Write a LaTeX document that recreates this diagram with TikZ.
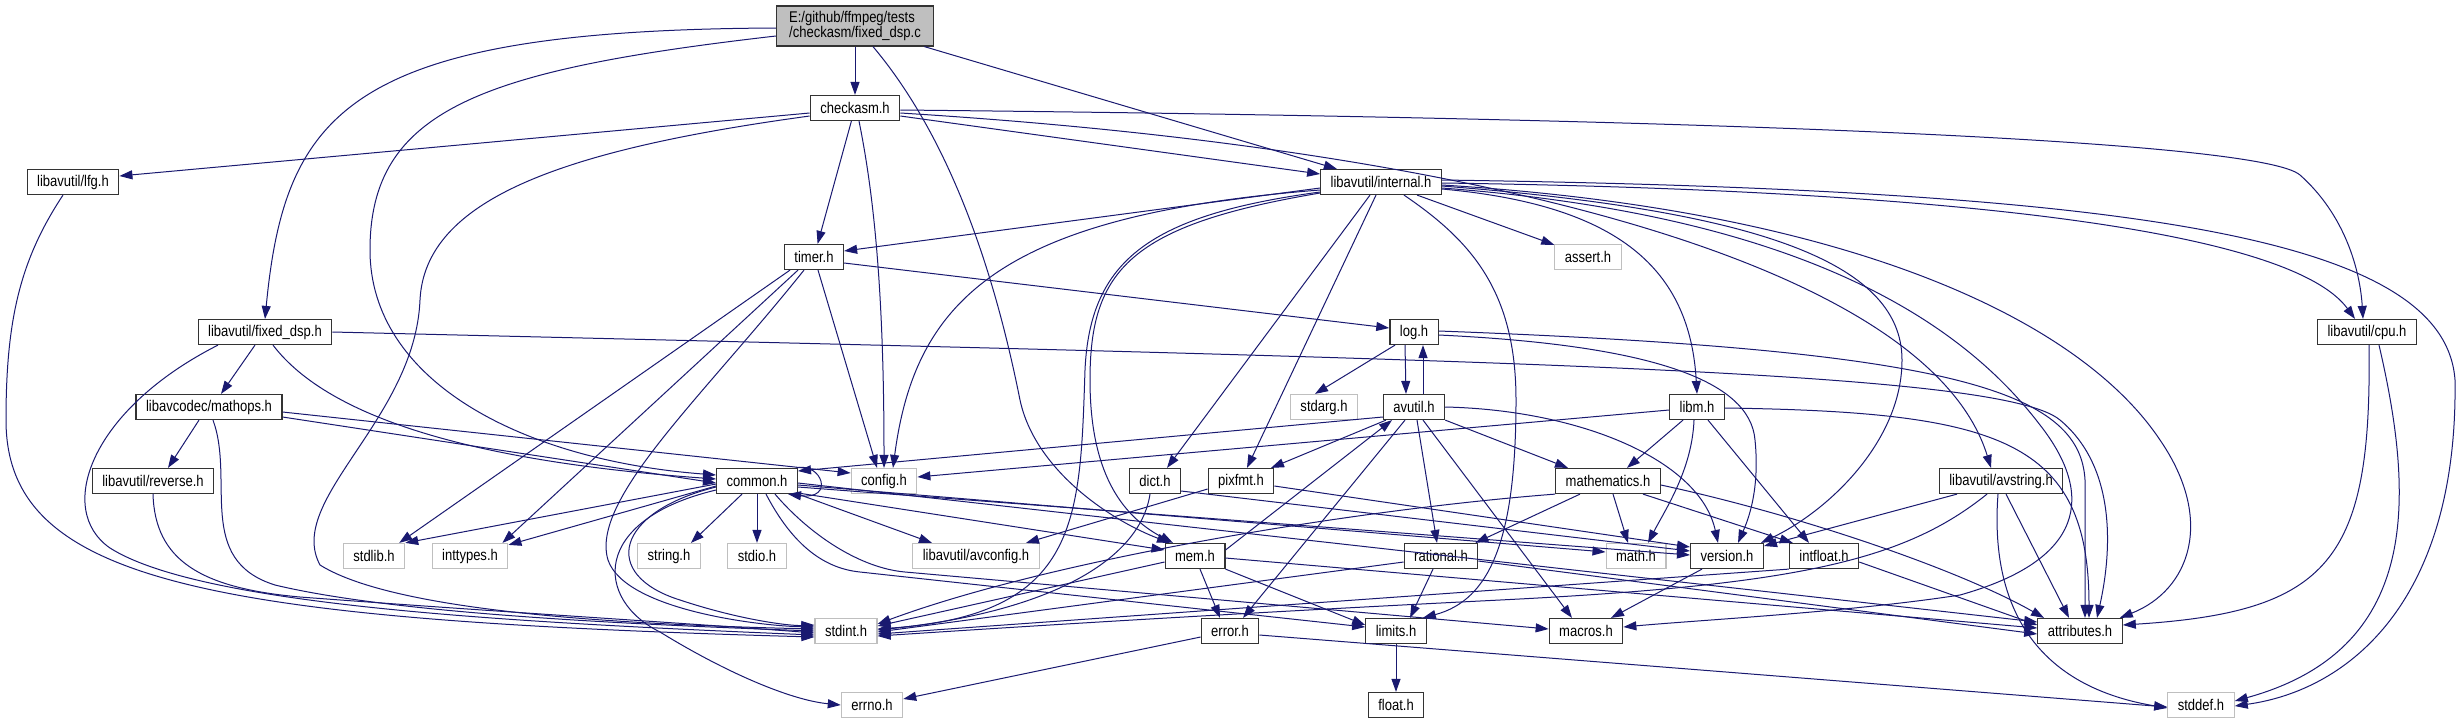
\documentclass[tikz,border=0pt]{standalone}
\usepackage{fontspec}
\setmainfont{Liberation Sans}
\newfontfamily\doxy[FakeStretch=0.84]{Liberation Sans}
\usetikzlibrary{arrows.meta}
\definecolor{enlace}{RGB}{25,25,112}
\definecolor{gris}{RGB}{191,191,191}

\begin{document}
\begin{tikzpicture}[x=1pt,y=-1pt]
        % Estilos de las cajas y de las flechas
        \tikzset{
            cabecera/.style={draw=black!80, line width=1.2pt, fill=white, minimum height=25pt,
                inner xsep=10pt, inner ysep=0pt, font=\doxy\fontsize{15.5}{15}\selectfont},
            sistema/.style={cabecera, draw=gris},
            raiz/.style={cabecera, fill=gris, align=left, minimum height=40pt, minimum width=157pt},
            incluye/.style={draw=enlace, line width=1pt, -{Triangle[length=13pt,width=9pt]}}
        }
        \fill[white] (0,0) rectangle (2460,724);
        \useasboundingbox (0,0) rectangle (2460,724);

        % --- FILAS 0 A 3 ---
        \node[raiz] (fixeddspc) at (855,26) {E:/github/ffmpeg/tests\\/checkasm/fixed\_dsp.c};
        \node[cabecera] (checkasm) at (855,108) {checkasm.h};
        \node[cabecera] (lfg) at (73,182) {libavutil/lfg.h};
        \node[cabecera] (internal) at (1381,182) {libavutil/internal.h};
        \node[cabecera] (timer) at (814,257) {timer.h};
        \node[sistema] (assert) at (1588,257) {assert.h};

        % --- FILAS 4 Y 5 ---
        \node[cabecera] (fixeddsph) at (265,332) {libavutil/fixed\_dsp.h};
        \node[cabecera] (log) at (1414,332) {log.h};
        \node[cabecera] (cpu) at (2367,332) {libavutil/cpu.h};
        \node[cabecera] (mathops) at (209,407) {libavcodec/mathops.h};
        \node[sistema] (stdarg) at (1324,407) {stdarg.h};
        \node[cabecera] (avutil) at (1414,407) {avutil.h};
        \node[cabecera] (libm) at (1697,407) {libm.h};

        % --- FILA 6 ---
        \node[cabecera] (reverse) at (153,481) {libavutil/reverse.h};
        \node[cabecera] (common) at (757,481) {common.h};
        \node[sistema] (config) at (884,481) {config.h};
        \node[cabecera] (dict) at (1155,481) {dict.h};
        \node[cabecera] (pixfmt) at (1241,481) {pixfmt.h};
        \node[cabecera] (mathematics) at (1608,481) {mathematics.h};
        \node[cabecera] (avstring) at (2001,481) {libavutil/avstring.h};

        % --- FILA 7 ---
        \node[sistema] (stdlib) at (374,556) {stdlib.h};
        \node[sistema] (inttypes) at (470,556) {inttypes.h};
        \node[sistema] (string) at (669,556) {string.h};
        \node[sistema] (stdio) at (757,556) {stdio.h};
        \node[sistema] (avconfig) at (976,556) {libavutil/avconfig.h};
        \node[cabecera] (mem) at (1195,556) {mem.h};
        \node[cabecera] (rational) at (1441,556) {rational.h};
        \node[sistema] (math) at (1636,556) {math.h};
        \node[cabecera] (version) at (1727,556) {version.h};
        \node[cabecera] (intfloat) at (1824,556) {intfloat.h};

        % --- FILAS 8 Y 9 ---
        \node[sistema] (stdint) at (846,631) {stdint.h};
        \node[cabecera] (error) at (1230,631) {error.h};
        \node[cabecera] (limits) at (1396,631) {limits.h};
        \node[cabecera] (macros) at (1586,631) {macros.h};
        \node[cabecera] (attributes) at (2080,631) {attributes.h};
        \node[sistema] (errno) at (872,705) {errno.h};
        \node[cabecera] (float) at (1396,705) {float.h};
        \node[sistema] (stddef) at (2201,705) {stddef.h};

        % --- fixed_dsp.c ---
        \draw[incluye] (fixeddspc) -- (checkasm);
        \draw[incluye] ([yshift=-2pt]fixeddspc.west) .. controls (350,30) and (285,110) .. (fixeddsph.north);
        \draw[incluye] ([yshift=-10pt]fixeddspc.west) .. controls (480,70) and (370,110) .. (370,250) .. controls (370,380) and (520,460) .. ([yshift=6pt]common.west);
        \draw[incluye] (fixeddspc) -- (internal);
        \draw[incluye] ([xshift=18pt]fixeddspc.south) .. controls (960,150) and (1000,300) .. (1020,400) .. controls (1035,470) and (1110,520) .. ([xshift=-25pt]mem.north);

        % --- checkasm.h ---
        \draw[incluye] ([yshift=-5pt]checkasm.west) -- ([yshift=6pt]lfg.east);
        \draw[incluye] ([yshift=-8pt]checkasm.west) .. controls (560,150) and (425,200) .. (420,300) .. controls (415,420) and (285,500) .. (320,565) .. controls (400,615) and (650,625) .. ([yshift=2pt]stdint.west);
        \draw[incluye] (checkasm) -- (timer);
        \draw[incluye] ([xshift=4pt]checkasm.south) .. controls (875,200) and (884,300) .. (config.north);
        \draw[incluye] ([yshift=-8pt]checkasm.east) -- ([yshift=8pt]internal.west);
        \draw[incluye] ([yshift=-2pt]checkasm.east) .. controls (1700,118) and (2260,140) .. (2300,175) .. controls (2345,215) and (2360,270) .. ([xshift=-4pt]cpu.north);
        \draw[incluye] ([yshift=-5pt]checkasm.east) .. controls (1500,150) and (1930,270) .. ([xshift=-10pt]avstring.north);

        % --- lfg.h, fixed_dsp.h, mathops.h, reverse.h ---
        \draw[incluye] ([xshift=-10pt]lfg.south) .. controls (20,260) and (6,320) .. (6,420) .. controls (6,580) and (200,620) .. ([yshift=-6pt]stdint.west);
        \draw[incluye] ([xshift=-10pt]fixeddsph.south) -- ([xshift=12pt]mathops.north);
        \draw[incluye] ([xshift=8pt]fixeddsph.south) .. controls (330,420) and (480,462) .. ([yshift=2pt]common.west);
        \draw[incluye] ([xshift=-47pt]fixeddsph.south) .. controls (90,410) and (55,510) .. (110,548) .. controls (200,605) and (500,622) .. ([yshift=-4pt]stdint.west);
        \draw[incluye] (fixeddsph.east) .. controls (1500,360) and (2000,370) .. (2060,420) .. controls (2120,470) and (2110,560) .. ([xshift=17pt]attributes.north);
        \draw[incluye] ([xshift=-10pt]mathops.south) -- ([xshift=15pt]reverse.north);
        \draw[incluye] ([xshift=4pt]mathops.south) .. controls (235,480) and (195,560) .. (275,585) .. controls (400,615) and (650,625) .. (stdint.west);
        \draw[incluye] ([yshift=-5pt]mathops.east) -- ([yshift=8pt]config.west);
        \draw[incluye] ([yshift=-10pt]mathops.east) -- ([yshift=-2pt]common.west);
        \draw[incluye] (reverse.south) .. controls (155,560) and (200,588) .. (300,597) .. controls (500,612) and (700,624) .. ([yshift=-2pt]stdint.west);

        % --- timer.h ---
        \draw[incluye] ([xshift=-10pt]timer.south) .. controls (700,400) and (590,500) .. (608,560) .. controls (625,610) and (760,626) .. ([yshift=4pt]stdint.west);
        \draw[incluye] ([xshift=-24pt]timer.south) -- ([xshift=-6pt]stdlib.north east);
        \draw[incluye] ([xshift=-16pt]timer.south) -- ([xshift=-6pt]inttypes.north east);
        \draw[incluye] ([xshift=4pt]timer.south) -- ([xshift=-7pt]config.north);
        \draw[incluye] ([yshift=-6pt]timer.east) -- ([yshift=4pt]log.west);

        % --- libavutil/internal.h ---
        \draw[incluye] ([yshift=-6pt]internal.west) -- ([yshift=6pt]timer.east);
        \draw[incluye] ([yshift=-8pt]internal.west) .. controls (1000,215) and (915,300) .. ([xshift=9pt]config.north);
        \draw[incluye] ([yshift=-10pt]internal.west) .. controls (1150,215) and (1090,260) .. (1085,370) .. controls (1080,520) and (1080,615) .. ([yshift=2pt]stdint.east);
        \draw[incluye] ([yshift=-11pt]internal.west) .. controls (1130,225) and (1090,270) .. (1090,380) .. controls (1090,470) and (1120,515) .. ([xshift=-22pt]mem.north);
        \draw[incluye] ([xshift=-11pt]internal.south) -- ([xshift=12pt]dict.north);
        \draw[incluye] ([xshift=-5pt]internal.south) -- ([xshift=6pt]pixfmt.north);
        \draw[incluye] ([xshift=23pt]internal.south) .. controls (1470,240) and (1516,290) .. (1516,400) .. controls (1516,540) and (1490,600) .. ([xshift=-4pt]limits.north east);
        \draw[incluye] (internal) -- (assert);
        \draw[incluye] ([yshift=-7pt]internal.east) .. controls (1620,205) and (1690,270) .. (libm.north);
        \draw[incluye] ([yshift=-4pt]internal.east) .. controls (1750,210) and (1902,260) .. (1902,360) .. controls (1902,440) and (1830,510) .. ([xshift=-3pt]version.north east);
        \draw[incluye] ([yshift=-3pt]internal.east) .. controls (1850,210) and (2080,320) .. (2160,440) .. controls (2215,520) and (2190,590) .. ([xshift=-3pt]attributes.north east);
        \draw[incluye] ([yshift=-1pt]internal.east) .. controls (1950,190) and (2290,230) .. ([xshift=-12pt]cpu.north);
        \draw[incluye] ([yshift=2pt]internal.east) .. controls (2150,190) and (2445,240) .. (2455,380) .. controls (2458,600) and (2350,690) .. ([yshift=-1pt]stddef.east);
        \draw[incluye] ([yshift=-6pt]internal.east) .. controls (1800,215) and (1960,320) .. (2040,425) .. controls (2095,495) and (2085,560) .. (1960,595) .. controls (1850,612) and (1700,620) .. ([yshift=4pt]macros.east);

        % --- log.h, avutil.h ---
        \draw[incluye] ([xshift=-19pt]log.south) -- ([xshift=-9pt]stdarg.north);
        \draw[incluye] ([xshift=-9pt]log.south) -- ([xshift=-8pt]avutil.north);
        \draw[incluye] ([xshift=9pt]avutil.north) -- ([xshift=9pt]log.south);
        \draw[incluye] ([yshift=-3pt]log.east) .. controls (1650,345) and (1750,380) .. (1755,440) .. controls (1760,490) and (1748,520) .. ([xshift=11pt]version.north);
        \draw[incluye] ([yshift=1pt]log.east) .. controls (1950,350) and (2080,390) .. (2085,480) -- ([xshift=5pt]attributes.north);
        \draw[incluye] ([yshift=-10pt]avutil.west) -- ([yshift=10pt]common.east);
        \draw[incluye] ([xshift=-28pt]avutil.south) -- ([xshift=30pt]pixfmt.north);
        \draw[incluye] ([xshift=-9pt]avutil.south) -- ([xshift=13pt]error.north);
        \draw[incluye] ([xshift=3pt]avutil.south) -- ([xshift=-4pt]rational.north);
        \draw[incluye] ([xshift=9pt]avutil.south) -- ([xshift=-14pt]macros.north);
        \draw[incluye] (avutil.south east) -- ([xshift=-40pt]mathematics.north);
        \draw[incluye] (avutil.east) .. controls (1580,410) and (1700,460) .. ([xshift=-9pt]version.north);

        % --- mem.h, error.h, limits.h ---
        \draw[incluye] ([yshift=6pt]mem.east) -- ([xshift=-22pt]avutil.south);
        \draw[incluye] ([yshift=-6pt]mem.west) -- ([yshift=5pt]stdint.east);
        \draw[incluye] ([xshift=5pt]mem.south) -- ([xshift=-10pt]error.north);
        \draw[incluye] (mem.south east) -- ([yshift=6pt]limits.west);
        \draw[incluye] ([yshift=-2pt]mem.east) -- ([yshift=3pt]attributes.west);
        \draw[incluye] ([yshift=-6pt]error.west) -- ([yshift=6pt]errno.east);
        \draw[incluye] ([yshift=-4pt]error.east) -- ([yshift=-2pt]stddef.west);
        \draw[incluye] (limits) -- (float);

        % --- rational.h, mathematics.h, libm.h ---
        \draw[incluye] ([yshift=-6pt]rational.west) -- ([yshift=-1pt]stdint.east);
        \draw[incluye] ([xshift=-8pt]rational.south) -- ([xshift=14pt]limits.north);
        \draw[incluye] ([yshift=-5pt]rational.east) -- ([yshift=-3pt]attributes.west);
        \draw[incluye] (mathematics.south west) .. controls (1350,510) and (1050,560) .. ([yshift=7pt]stdint.east);
        \draw[incluye] ([xshift=-28pt]mathematics.south) -- ([xshift=-3pt]rational.north east);
        \draw[incluye] ([xshift=5pt]mathematics.south) -- ([xshift=-8pt]math.north);
        \draw[incluye] ([xshift=35pt]mathematics.south) -- ([xshift=4pt]intfloat.north west);
        \draw[incluye] ([yshift=-4pt]mathematics.east) .. controls (1800,515) and (1960,570) .. ([xshift=-36pt]attributes.north);
        \draw[incluye] ([xshift=-14pt]libm.south) -- ([xshift=19pt]mathematics.north);
        \draw[incluye] ([xshift=-3pt]libm.south) .. controls (1692,470) and (1665,510) .. ([xshift=12pt]math.north);
        \draw[incluye] ([xshift=11pt]libm.south) -- ([xshift=-15pt]intfloat.north);
        \draw[incluye] ([yshift=-3pt]libm.west) -- ([yshift=4pt]config.east);
        \draw[incluye] ([yshift=-1pt]libm.east) .. controls (2000,412) and (2089,440) .. ([xshift=9pt]attributes.north);

        % --- dict.h, pixfmt.h, version.h, intfloat.h ---
        \draw[incluye] ([xshift=-5pt]dict.south) .. controls (1140,560) and (1050,612) .. ([yshift=1pt]stdint.east);
        \draw[incluye] ([yshift=-10pt]dict.east) -- ([yshift=5pt]version.west);
        \draw[incluye] ([yshift=-8pt]pixfmt.west) -- ([xshift=50pt]avconfig.north);
        \draw[incluye] ([yshift=-5pt]pixfmt.east) -- ([yshift=9pt]version.west);
        \draw[incluye] ([xshift=-25pt]version.south) -- ([xshift=25pt]macros.north);
        \draw[incluye] (intfloat.south west) -- ([yshift=-3pt]stdint.east);
        \draw[incluye] ([yshift=-6pt]intfloat.east) -- ([yshift=6pt]attributes.west);

        % --- libavutil/avstring.h, libavutil/cpu.h ---
        \draw[incluye] ([xshift=-44pt]avstring.south) -- ([yshift=10pt]version.east);
        \draw[incluye] ([xshift=-14pt]avstring.south) .. controls (1905,560) and (1800,585) .. (1500,600) .. controls (1200,615) and (1000,628) .. ([yshift=-5pt]stdint.east);
        \draw[incluye] ([xshift=-3pt]avstring.south) .. controls (1990,600) and (2030,685) .. ([yshift=-3pt]stddef.west);
        \draw[incluye] ([xshift=5pt]avstring.south) -- ([xshift=-11pt]attributes.north);
        \draw[incluye] ([xshift=2pt]cpu.south) .. controls (2372,560) and (2330,612) .. ([yshift=6pt]attributes.east);
        \draw[incluye] ([xshift=12pt]cpu.south) .. controls (2415,500) and (2420,650) .. ([yshift=4pt]stddef.east);

        % --- common.h ---
        \draw[incluye] ([xshift=-2pt]common.north east) .. controls (822,462) and (835,500) .. ([xshift=-10pt]common.south east);
        \draw[incluye] ([xshift=-15pt]common.south) -- ([xshift=22pt]string.north);
        \draw[incluye] (common) -- (stdio);
        \draw[incluye] (common.south east) -- ([xshift=-44pt]avconfig.north);
        \draw[incluye] ([yshift=-6pt]common.west) .. controls (615,512) and (600,575) .. (680,600) .. controls (740,620) and (790,626) .. ([yshift=6pt]stdint.west);
        \draw[incluye] ([yshift=-9pt]common.west) .. controls (590,520) and (595,600) .. (660,632) .. controls (725,672) and (790,700) .. (errno.west);
        \draw[incluye] ([yshift=-3pt]common.west) -- (stdlib.north east);
        \draw[incluye] ([yshift=-5pt]common.west) -- ([yshift=-2pt]inttypes.north east);
        \draw[incluye] ([yshift=-12pt]common.east) -- ([yshift=6pt]mem.west);
        \draw[incluye] ([yshift=-4pt]common.east) -- ([yshift=4pt]math.west);
        \draw[incluye] ([yshift=-6pt]common.east) -- ([yshift=1pt]version.west);
        \draw[incluye] ([xshift=9pt]common.south) .. controls (790,540) and (820,568) .. (860,572) -- ([yshift=4pt]limits.west);
        \draw[incluye] ([xshift=18pt]common.south) .. controls (810,535) and (860,568) .. (905,572) -- ([yshift=2pt]macros.west);
        \draw[incluye] ([yshift=-2pt]common.east) -- ([yshift=9pt]attributes.west);
\end{tikzpicture}
\end{document}
